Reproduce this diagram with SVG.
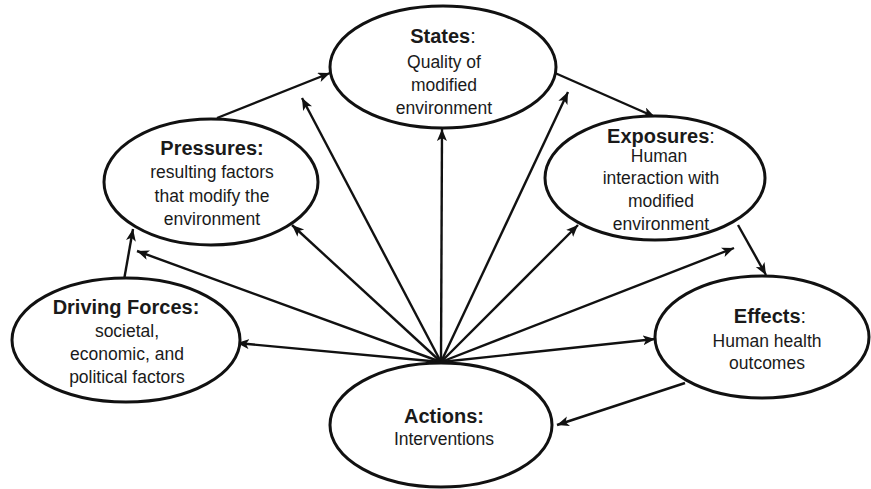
<svg xmlns="http://www.w3.org/2000/svg" width="871" height="489" viewBox="0 0 871 489">
<defs>
<style>
.node ellipse{fill:#fff;stroke:#111;stroke-width:3}
.t{font-family:"Liberation Sans",Arial,sans-serif;font-size:20px;font-weight:bold;fill:#1a1a1a;text-anchor:middle}
.b{font-family:"Liberation Sans",Arial,sans-serif;font-size:17.5px;fill:#1a1a1a;text-anchor:middle}
.n{font-weight:normal}
#edges line{stroke:#111;stroke-width:2.4;marker-end:url(#ah)}
</style>
<marker id="ah" markerUnits="userSpaceOnUse" markerWidth="14" markerHeight="11" refX="12" refY="5" orient="auto">
<path d="M0,0 L12,5 L0,10 L3,5 z" fill="#111"/>
</marker>
</defs>
<rect width="871" height="489" fill="#fff"/>
<g id="edges">
<line x1="441" y1="362" x2="237" y2="343"/>
<line x1="441" y1="362" x2="137" y2="251"/>
<line x1="441" y1="362" x2="292" y2="225"/>
<line x1="441" y1="362" x2="302" y2="98"/>
<line x1="441" y1="362" x2="442" y2="129"/>
<line x1="441" y1="362" x2="568" y2="92"/>
<line x1="441" y1="362" x2="578" y2="225"/>
<line x1="441" y1="362" x2="734" y2="248"/>
<line x1="441" y1="362" x2="655" y2="339"/>
<line x1="217" y1="118" x2="330" y2="73"/>
<line x1="555" y1="73" x2="655" y2="117"/>
<line x1="738" y1="225" x2="766" y2="275"/>
<line x1="685" y1="383" x2="557" y2="425"/>
<line x1="124" y1="280" x2="133" y2="229"/>
</g>
<g id="states" class="node">
<ellipse cx="443" cy="67" rx="113" ry="61"/>
<text class="t" x="443" y="43">States<tspan class="n">:</tspan></text>
<text class="b" x="444" y="68">Quality of</text>
<text class="b" x="444" y="91">modified</text>
<text class="b" x="444" y="114">environment</text>
</g>
<g id="pressures" class="node">
<ellipse cx="211" cy="182" rx="107" ry="63"/>
<text class="t" x="212" y="155">Pressures:</text>
<text class="b" x="212" y="178">resulting factors</text>
<text class="b" x="212" y="202">that modify the</text>
<text class="b" x="212" y="225">environment</text>
</g>
<g id="exposures" class="node">
<ellipse cx="655" cy="178" rx="110" ry="62"/>
<text class="t" x="661" y="143">Exposures<tspan class="n">:</tspan></text>
<text class="b" x="659" y="162">Human</text>
<text class="b" x="661" y="184">interaction with</text>
<text class="b" x="661" y="207">modified</text>
<text class="b" x="661" y="230">environment</text>
</g>
<g id="driving" class="node">
<ellipse cx="126" cy="340" rx="114" ry="62"/>
<text class="t" x="126" y="314">Driving Forces:</text>
<text class="b" x="127" y="337">societal,</text>
<text class="b" x="127" y="360">economic, and</text>
<text class="b" x="127" y="383">political factors</text>
</g>
<g id="effects" class="node">
<ellipse cx="762" cy="337" rx="107" ry="61"/>
<text class="t" x="770" y="323">Effects<tspan class="n">:</tspan></text>
<text class="b" x="767" y="347">Human health</text>
<text class="b" x="767" y="369">outcomes</text>
</g>
<g id="actions" class="node">
<ellipse cx="441" cy="425" rx="111" ry="62"/>
<text class="t" x="444" y="423">Actions:</text>
<text class="b" x="444" y="445">Interventions</text>
</g>
</svg>
